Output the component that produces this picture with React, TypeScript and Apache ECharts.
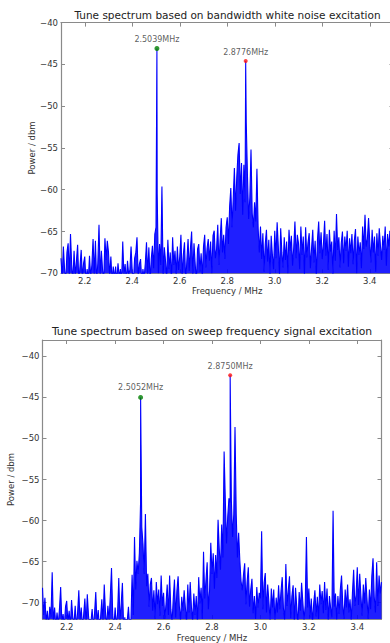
import React, { useEffect, useRef } from "react";
import * as echarts from "echarts";

// Sampling grid of both spectra (MHz)
const FREQ_START = 2.1;
const FREQ_STEP = 0.005;

const X_TICKS = [2.2, 2.4, 2.6, 2.8, 3.0, 3.2, 3.4];
const Y_TICKS = [-70, -65, -60, -55, -50, -45, -40];

const TITLE_TOP = "Tune spectrum based on bandwidth white noise excitation";
const TITLE_BOTTOM = "Tune spectrum based on sweep frequency signal excitation";
const X_NAME = "Frequency / MHz";
const Y_NAME = "Power / dbm";

// Top spectrum (white noise), dBm, 2.100 .. 2.495 MHz
const topPowerLow = [
  -68.2, -70.5, -66.8, -69.5, -71, -67.5, -66.4, -70.2, -65.3, -69, -71, -67.3, -70.4, -68.5, -66.6, -71, -69.2, -67.2, -70.6, -68.8,
  -68, -71, -69.5, -70.8, -67.9, -70.5, -69, -65.9, -70.2, -66.1, -71, -68.8, -64.2, -70.3, -67.3, -69.6, -70.9, -65.8, -68.4, -66.1,
  -67.5, -70.4, -68, -71, -69.2, -70.6, -69.2, -71, -68.8, -70.5, -69.5, -71, -66.2, -70.3, -68.9, -71, -68.5, -70.2, -69.6, -66.8,
  -69.8, -71, -68.2, -67.5, -65.7, -70.4, -68.9, -68.3, -71, -69.5, -70.6, -68.8, -66.3, -70.1, -66.9, -71, -68.3, -66.7, -69.4, -65.3,
];
// 2.500 .. 2.995 MHz
const topPowerMid = [
  -64.5, -60.5, -70, -66.5, -69, -59.6, -70.5, -66.9, -68.5, -70.8, -66, -69.5, -67.5, -71, -65.7, -69, -67.3, -70.3, -66.8, -69.6,
  -68, -65.4, -70.5, -67.8, -66.3, -71, -68.5, -65.9, -69.7, -67, -65, -70.2, -66.4, -68.9, -71, -67.1, -66.5, -69.8, -67.6, -70.5,
  -66.8, -65.4, -69.3, -67, -65.9, -68.5, -66.2, -70, -65.5, -64.9, -68.2, -67.1, -64.2, -69, -66, -63.4, -67.5, -65.4, -68.3, -64.5,
  -63.3, -66.5, -62, -59.8, -64.5, -61.2, -57.4, -62.5, -58.5, -55.8, -54.4, -60.5, -56.8, -63, -57, -61.5, -52, -58.2, -63.5, -61,
  -55.2, -62.8, -64.5, -61.5, -63.8, -57.5, -64.6, -67.5, -64.4, -68.3, -65.2, -69.8, -66.5, -64.8, -68.6, -66, -70.3, -65.5, -67.8, -69.5,
];
// 3.000 .. 3.500 MHz
const topPowerHigh = [
  -64.9, -68.2, -63.9, -66.8, -70.1, -64.6, -67.5, -69.3, -65.7, -68.4, -66.2, -70, -64.8, -67.3, -65.5, -69.1, -66.9, -63.8, -68.2, -65.4,
  -66.4, -69.5, -64.4, -67.8, -65.6, -70.2, -64.5, -68.1, -66.3, -65.2, -69.4, -67, -64.8, -68.7, -66.1, -70.4, -65.9, -63.8, -67.6, -65.1,
  -68.3, -66.5, -63.7, -67.9, -65.3, -69.6, -64.8, -67.4, -66.2, -70.1, -64.9, -68.5, -62.9, -67.2, -65.7, -69.3, -66.4, -65, -68.8, -65.6,
  -67.3, -64.9, -69.2, -65.8, -67.6, -65.3, -68.9, -66.1, -64.7, -70, -65.6, -67.8, -66.3, -69.4, -64.4, -67.1, -63, -66.8, -65.9, -63.4,
  -66.2, -68.7, -64.8, -67.5, -65.6, -69.8, -65.2, -67.9, -64.6, -66.7, -68.4, -65.5, -67.2, -64.4, -69.1, -65.3, -66.8, -64.9, -68.5, -65.7, -67,
];

// Bottom spectrum (sweep), dBm, 2.100 .. 2.495 MHz
const bottomPowerLow = [
  -68.2, -71.5, -69.4, -72.5, -71, -73, -70.5, -71.8, -66.3, -72.5, -70.6, -73, -71.2, -72.8, -70.8, -68.1, -72.5, -71.4, -73, -70.5,
  -69.8, -72.5, -71, -73, -69.7, -71.8, -72.6, -70.4, -73, -71.2, -68.5, -72.4, -70.6, -73, -71.5, -69.5, -72.8, -69, -71.6, -73,
  -72.4, -70.8, -73, -71.3, -68.7, -72.6, -70.9, -73, -71.8, -69.6, -72.5, -67.8, -71.1, -73, -70.4, -72.2, -69.2, -65.8, -71.5, -73,
  -70.6, -72.8, -71.4, -67, -72.4, -70.2, -67.6, -73, -71.8, -73.5, -72.2, -70.5, -73, -72.6, -66.6, -71.5, -62, -68.4, -64.9, -66.5,
];
// 2.500 .. 2.995 MHz
const bottomPowerMid = [
  -64, -57.8, -60.8, -62.9, -66.5, -59.2, -68, -66.5, -70.5, -67.8, -67, -71, -68.5, -72, -67.5, -70.2, -68.4, -71.6, -66.7, -70.4,
  -68.8, -72, -70.2, -67.8, -71.5, -66.7, -70.8, -72.5, -69.5, -67.2, -71.8, -68.6, -66.8, -70.4, -72.2, -69.3, -71, -68.5, -70.6, -72.4,
  -67.8, -71.2, -67.5, -70.5, -72.3, -68.9, -71.5, -69.2, -72.6, -66.9, -70.1, -68.2, -72, -63.8, -69.5, -67.3, -65.1, -70.8, -68.5, -62.7,
  -66.5, -64, -68.3, -64.2, -67, -59.9, -63.5, -66, -60.5, -64.5, -51.6, -57.5, -62.8, -59.5, -57.3, -57.8, -57.6, -62, -59.2, -48.6,
  -59.2, -64.5, -61.5, -64.9, -67.4, -68.5, -66.6, -65.2, -70.2, -67.5, -65.7, -70.5, -68.4, -67.1, -71.3, -69.2, -72, -68.1, -70.6, -68.8,
];
// 3.000 .. 3.500 MHz
const bottomPowerHigh = [
  -69.5, -61.3, -70.8, -67.6, -66.4, -71.2, -67.8, -69.9, -72.3, -68.3, -70.6, -68.4, -72.5, -69.4, -71.2, -67.9, -70.8, -68.6, -66.9, -70.7,
  -72.1, -65.3, -70.4, -68.5, -66.8, -71.9, -69.2, -67.9, -72.4, -68.2, -70.5, -72.8, -68.7, -71, -67.6, -69.9, -72.2, -70.3, -62, -70.6,
  -68.3, -71.8, -69.5, -72.5, -70.1, -68.5, -71.7, -69.3, -72, -67.8, -70.2, -68.6, -71.3, -67.5, -70.9, -68.3, -72.2, -69.2, -70.7, -71.8,
  -58.8, -70.5, -68.9, -72.1, -69.2, -71.4, -68.4, -66.7, -70.2, -72, -68.4, -70.6, -67.8, -71.2, -69.6, -72.3, -68.8, -66, -70.4, -69.1,
  -65.7, -70.3, -66.5, -69.2, -71.6, -67.8, -70.1, -67, -69.5, -72, -68.4, -70.8, -66.8, -64.6, -69.3, -71.2, -65.1, -70.4, -66.7, -68.9, -67.5,
];

// Marked peaks
const topPeakFreqs = [2.5039, 2.8776];
const topPeakPowers = [-43.1, -44.6];
const bottomPeakFreqs = [2.5052, 2.875];
const bottomPeakPowers = [-45.0, -42.3];
const peakColors = ["#008000", "#ff1010"];
const peakSizes = [5, 4];

const FONT = "DejaVu Sans";
const TEXT = "#333";
const FRAME = "#8a8a8a";
const LINE = "#0000ff";

function buildSpectrum(parts: number[][], peakF: number[], peakP: number[]) {
  const power = ([] as number[]).concat(...parts);
  const pts: number[][] = power.map((p, i) => [+(FREQ_START + i * FREQ_STEP).toFixed(4), p]);
  peakF.forEach((f, i) => pts.push([f, peakP[i]]));
  pts.sort((a, b) => a[0] - b[0]);
  return pts;
}

const minus = (v: number) => String(v).replace("-", "\u2212");

function xAxes(grid: number, nameGap: number) {
  const line = { show: true, onZero: false, lineStyle: { color: FRAME, width: 1.2 } };
  return [
    {
      type: "value", gridIndex: grid, min: 2.1, max: 3.5, position: "bottom",
      axisLine: line,
      axisTick: { show: true, inside: true, length: 4, customValues: X_TICKS, lineStyle: { color: FRAME } },
      axisLabel: { customValues: X_TICKS, formatter: (v: number) => v.toFixed(1), fontSize: 8.5, color: TEXT, fontFamily: FONT, margin: 3 },
      splitLine: { show: false },
      name: X_NAME, nameLocation: "middle", nameGap, nameMoveOverlap: false,
      nameTextStyle: { fontSize: 8.5, color: TEXT, fontFamily: FONT },
    },
    {
      type: "value", gridIndex: grid, min: 2.1, max: 3.5, position: "top",
      axisLine: line,
      axisTick: { show: true, inside: true, length: 4, customValues: X_TICKS, lineStyle: { color: FRAME } },
      axisLabel: { show: false },
      splitLine: { show: false },
    },
  ];
}

function yAxes(grid: number, min: number, max: number, nameGap: number) {
  const line = { show: true, onZero: false, lineStyle: { color: FRAME, width: 1.2 } };
  return [
    {
      type: "value", gridIndex: grid, min, max, position: "left",
      axisLine: line,
      axisTick: { show: true, inside: true, length: 4, customValues: Y_TICKS, lineStyle: { color: FRAME } },
      axisLabel: { customValues: Y_TICKS, formatter: minus, fontSize: 8.5, color: TEXT, fontFamily: FONT, margin: 3 },
      splitLine: { show: false },
      name: Y_NAME, nameLocation: "middle", nameGap, nameMoveOverlap: false,
      nameTextStyle: { fontSize: 8.5, color: TEXT, fontFamily: FONT },
    },
    {
      type: "value", gridIndex: grid, min, max, position: "right",
      axisLine: line,
      axisTick: { show: true, inside: true, length: 4, customValues: Y_TICKS, lineStyle: { color: FRAME } },
      axisLabel: { show: false },
      splitLine: { show: false },
    },
  ];
}

function spectrumSeries(xi: number, yi: number, data: number[][]) {
  return {
    type: "line", xAxisIndex: xi, yAxisIndex: yi, data, showSymbol: false, symbol: "none",
    lineStyle: { color: LINE, width: 1.1 },
    areaStyle: { color: LINE, opacity: 0.88, origin: "start" },
    clip: true,
  };
}

function peakSeries(xi: number, yi: number, f: number[], p: number[]) {
  return {
    type: "scatter", xAxisIndex: xi, yAxisIndex: yi, z: 5,
    data: f.map((v, i) => ({
      value: [v, p[i]],
      symbolSize: peakSizes[i],
      itemStyle: { color: peakColors[i] },
    })),
    label: {
      show: true, position: "top", distance: 3,
      formatter: (d: any) => d.value[0].toFixed(4) + "MHz",
      fontSize: 8, color: TEXT, fontFamily: FONT,
    },
  };
}

export default function App() {
  const ref = useRef<HTMLDivElement>(null);
  useEffect(() => {
    if (!ref.current) return;
    const chart = echarts.init(ref.current, undefined, { renderer: "svg" });
    const topData = buildSpectrum([topPowerLow, topPowerMid, topPowerHigh], topPeakFreqs, topPeakPowers);
    const bottomData = buildSpectrum([bottomPowerLow, bottomPowerMid, bottomPowerHigh], bottomPeakFreqs, bottomPeakPowers);
    chart.setOption({
      animation: false,
      backgroundColor: "#fff",
      textStyle: { fontFamily: FONT },
      graphic: [
        { type: "text", x: 227.5, y: 15, style: { text: TITLE_TOP, fontSize: 10.5, fontFamily: FONT, fill: "#222", align: "center", verticalAlign: "middle" } },
        { type: "text", x: 212, y: 331.5, style: { text: TITLE_BOTTOM, fontSize: 10.8, fontFamily: FONT, fill: "#222", align: "center", verticalAlign: "middle" } },
      ],
      grid: [
        { left: 61, top: 22.6, width: 332.5, height: 250.7, show: false, outerBoundsMode: "none", containLabel: false },
        { left: 42.5, top: 340, width: 339, height: 279, show: false, outerBoundsMode: "none", containLabel: false },
      ],
      xAxis: [...xAxes(0, 13), ...xAxes(1, 14)],
      yAxis: [...yAxes(0, -70, -40, 25), ...yAxes(1, -72, -38, 27)],
      series: [
        spectrumSeries(0, 0, topData),
        spectrumSeries(2, 2, bottomData),
        peakSeries(0, 0, topPeakFreqs, topPeakPowers),
        peakSeries(2, 2, bottomPeakFreqs, bottomPeakPowers),
      ],
    });
    return () => chart.dispose();
  }, []);
  return <div ref={ref} style={{ position: "absolute", left: 0, top: 0, width: 390, height: 643 }} />;
}
